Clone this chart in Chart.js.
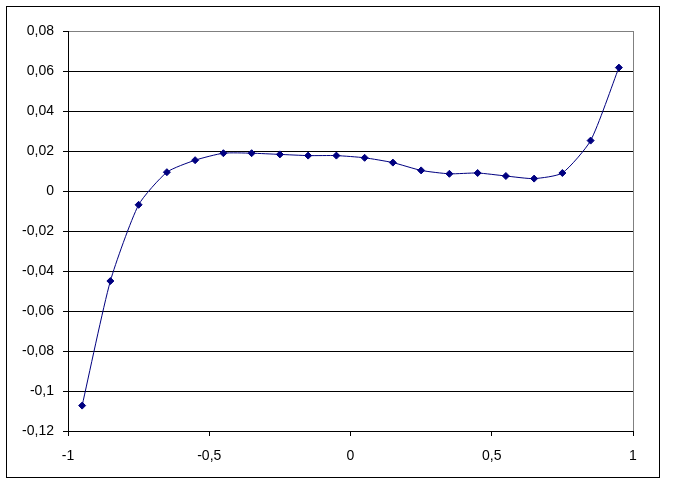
<!DOCTYPE html>
<html>
<head>
<meta charset="utf-8">
<script src="https://cdn.jsdelivr.net/npm/chart.js@4"></script>
<style>
  html, body { margin: 0; padding: 0; background: #fff; }
  #wrap { position: relative; width: 683px; height: 484px; }
</style>
</head>
<body>
<div id="wrap"><canvas id="chart" width="683" height="484"></canvas></div>
<script>
// x positions of the measured points
var xValues = [-0.95, -0.85, -0.75, -0.65, -0.55, -0.45, -0.35, -0.25, -0.15, -0.05,
               0.05, 0.15, 0.25, 0.35, 0.45, 0.55, 0.65, 0.75, 0.85, 0.95];
// y values
var yValues = [-0.1073, -0.0450, -0.0069, 0.0094, 0.0154, 0.0189, 0.0189, 0.0183, 0.0177, 0.0177,
               0.0166, 0.0142, 0.0103, 0.0086, 0.0090, 0.0075, 0.0062, 0.0090, 0.0252, 0.0617];

var xMin = -1, xMax = 1, xStep = 0.5;
var yMin = -0.12, yMax = 0.08, yStep = 0.02;

var points = xValues.map(function(x, i) { return { x: x, y: yValues[i] }; });

function commaLabel(v) {
  var r = Math.round(v * 100) / 100;
  if (r === 0) r = 0;
  return String(r).replace('.', ',');
}

// outer frame like the spreadsheet chart border
var framePlugin = {
  id: 'frame',
  beforeDraw: function(chart) {
    var c = chart.ctx;
    c.save();
    c.fillStyle = '#ffffff';
    c.fillRect(0, 0, chart.width, chart.height);
    c.strokeStyle = '#000000';
    c.lineWidth = 1;
    c.strokeRect(6.5, 6.5, 653, 471);
    c.restore();
  }
};

var config = {
  type: 'scatter',
  data: {
    datasets: [{
      data: points,
      showLine: true,
      borderColor: '#000080',
      backgroundColor: '#000080',
      borderWidth: 1,
      tension: 0.2,
      pointStyle: 'rectRot',
      pointRadius: 3.5,
      pointBorderWidth: 1,
      pointBorderColor: '#000080',
      pointBackgroundColor: '#000080'
    }]
  },
  options: {
    responsive: false,
    animation: false,
    layout: { padding: { left: 0, top: 31, right: 50, bottom: 0 } },
    plugins: { legend: { display: false }, tooltip: { enabled: false } },
    font: { family: 'Liberation Sans, Arial, sans-serif' },
    scales: {
      x: {
        type: 'linear',
        min: xMin,
        max: xMax,
        afterFit: function(s) { s.height = 53; },
        border: { display: true, color: '#000000', width: 1 },
        grid: {
          drawOnChartArea: true,
          color: function(ctx) { return ctx.tick && ctx.tick.value === xMax ? '#808080' : 'rgba(0,0,0,0)'; },
          tickColor: '#000000',
          tickLength: 5
        },
        ticks: {
          stepSize: xStep,
          padding: 12,
          color: '#000000',
          font: { family: 'Liberation Sans, Arial, sans-serif', size: 14 },
          maxRotation: 0,
          callback: function(v) { return commaLabel(v); }
        }
      },
      y: {
        type: 'linear',
        min: yMin,
        max: yMax,
        afterFit: function(s) { s.width = 68; },
        border: { display: true, color: '#000000', width: 1 },
        grid: {
          color: function(ctx) { return ctx.tick && Math.abs(ctx.tick.value - yMax) < 1e-9 ? '#808080' : '#000000'; },
          tickColor: '#000000',
          tickLength: 5
        },
        ticks: {
          stepSize: yStep,
          padding: 9,
          color: '#000000',
          font: { family: 'Liberation Sans, Arial, sans-serif', size: 14 },
          callback: function(v) { return commaLabel(v); }
        }
      }
    }
  },
  plugins: [framePlugin]
};

var chart = new Chart(document.getElementById('chart'), config);
</script>
</body>
</html>
